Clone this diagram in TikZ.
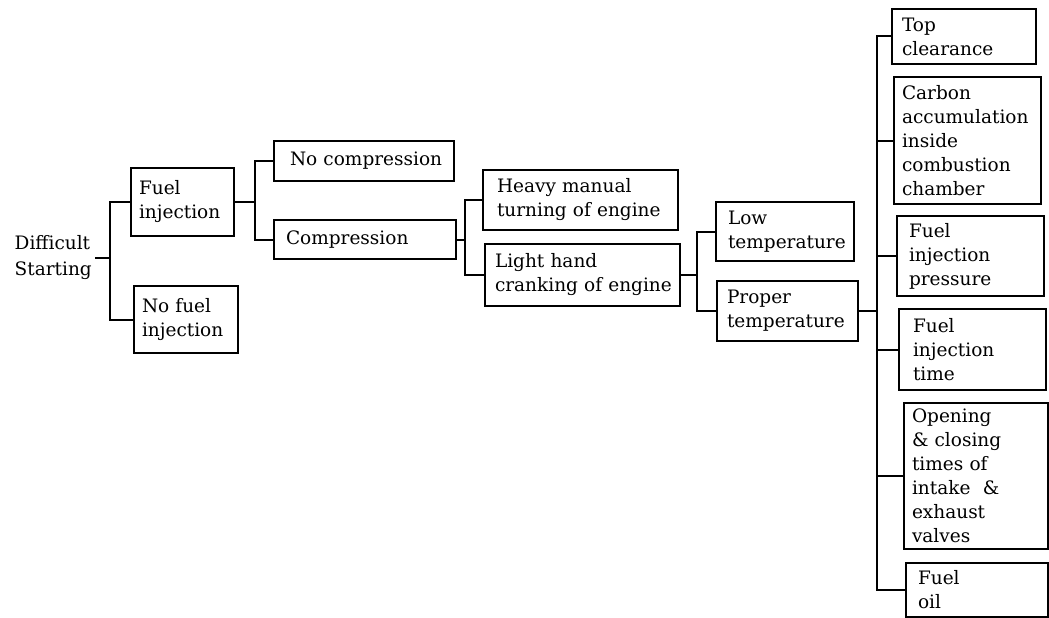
\documentclass[tikz,border=0pt]{standalone}
\usepackage{fontspec}
\setmainfont{DejaVu Serif}
\begin{document}
\begin{tikzpicture}[x=1pt,y=-1pt,
  box/.style={draw, line width=2pt, anchor=north west, align=left, inner xsep=10pt, inner ysep=0pt,
    font=\fontsize{18.5}{24}\selectfont},
  link/.style={line width=2pt}]
\useasboundingbox[fill=white] (0,0) rectangle (1049,618);
% root
\node[font=\fontsize{18.5}{26}\selectfont, align=left, anchor=east, inner sep=3pt] (root) at (95,258) {Difficult\\Starting};
% level 1
\node[box, inner xsep=8pt, minimum width=103pt, minimum height=68pt, text width=87pt] (fi) at (130,167) {Fuel\\injection};
\node[box, inner xsep=8pt, minimum width=104pt, minimum height=67pt, text width=88pt] (nfi) at (133,285) {No fuel\\injection};
% level 2
\node[box, inner xsep=16pt, minimum width=180pt, minimum height=40pt, text width=148pt] (nc) at (273,140) {\mbox{No compression}};
\node[box, inner xsep=12pt, minimum width=182pt, minimum height=39pt, text width=158pt] (co) at (273,219) {Compression};
% level 3
\node[box, inner xsep=14pt, minimum width=195pt, minimum height=60pt, text width=167pt] (hv) at (482,169) {Heavy manual\\\mbox{turning of engine}};
\node[box, inner xsep=10pt, minimum width=195pt, minimum height=62pt, text width=175pt] (lt) at (484,243) {Light hand\\\mbox{cranking of engine}};
% level 4
\node[box, inner xsep=12pt, minimum width=138pt, minimum height=59pt, text width=114pt] (lo) at (715,201) {Low\\temperature};
\node[box, inner xsep=10pt, minimum width=141pt, minimum height=60pt, text width=121pt] (pr) at (716,280) {Proper\\temperature};
% level 5
\node[box, minimum width=144pt, minimum height=55pt, text width=124pt] (tc) at (891,8) {Top\\clearance};
\node[box, inner xsep=8pt, minimum width=147pt, minimum height=127pt, text width=131pt] (cb) at (893,76) {Carbon\\accumulation\\inside\\combustion\\chamber};
\node[box, inner xsep=12pt, minimum width=147pt, minimum height=80pt, text width=123pt] (fp) at (896,215) {Fuel\\injection\\pressure};
\node[box, inner xsep=14pt, minimum width=147pt, minimum height=81pt, text width=119pt] (ft) at (898,308) {Fuel\\injection\\time};
\node[box, inner xsep=8pt, minimum width=144pt, minimum height=146pt, text width=128pt] (op) at (903,402) {Opening\\\& closing\\times of\\intake~~\&\\exhaust\\valves};
\node[box, inner xsep=12pt, minimum width=142pt, minimum height=54pt, text width=118pt] (fo) at (905,562) {Fuel\\oil};
% junction columns
\coordinate (j1) at (110,0);
\coordinate (j2) at (255,0);
\coordinate (j3) at (465,0);
\coordinate (j4) at (697,0);
\coordinate (j5) at (877,0);
% connectors
\draw[link] (root.east) -- (root.east -| j1);
\draw[link] (fi.west) -| (j1 |- root.east) |- (nfi.west);
\draw[link] (fi.east) -- (fi.east -| j2);
\draw[link] (nc.west) -| (j2 |- fi.east) |- (co.west);
\draw[link] (co.east) -- (co.east -| j3);
\draw[link] (hv.west) -| (j3 |- co.east) |- (lt.west);
\draw[link] (lt.east) -- (lt.east -| j4);
\draw[link] (lo.west) -| (j4 |- lt.east) |- (pr.west);
\draw[link] (pr.east) -- (pr.east -| j5);
\draw[link] (tc.west) -| (j5 |- pr.east) |- (fo.west);
\draw[link] (cb.west) -- (cb.west -| j5);
\draw[link] (fp.west) -- (fp.west -| j5);
\draw[link] (ft.west) -- (ft.west -| j5);
\draw[link] (op.west) -- (op.west -| j5);
\end{tikzpicture}
\end{document}
